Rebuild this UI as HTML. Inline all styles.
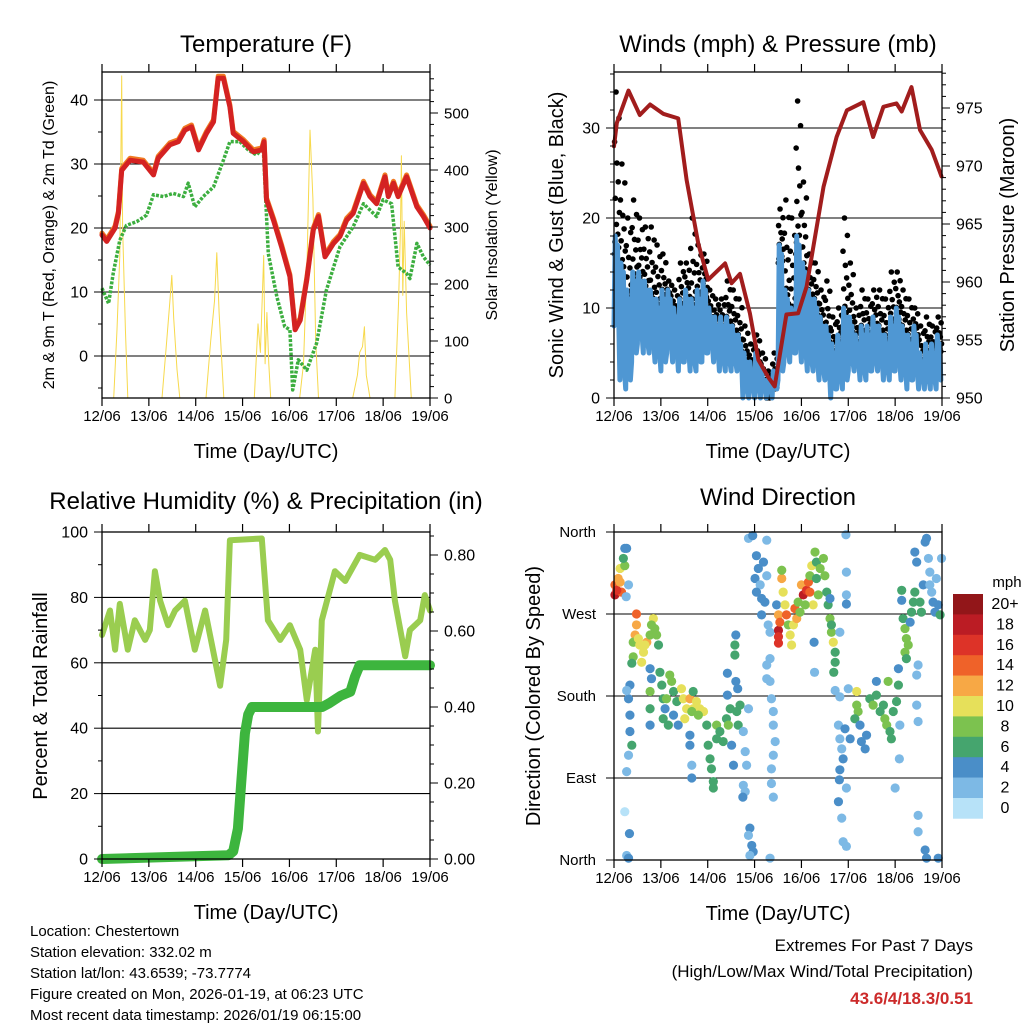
<!DOCTYPE html>
<html><head><meta charset="utf-8">
<style>
html,body{margin:0;padding:0;background:#fff;}
svg{display:block;font-family:"Liberation Sans",Arial,sans-serif;}
</style></head>
<body>
<svg id="chart" width="1024" height="1024" viewBox="0 0 1024 1024" xmlns="http://www.w3.org/2000/svg"></svg>
<script>
// ---------- DATA ----------
const dayLabels = ["12/06","13/06","14/06","15/06","16/06","17/06","18/06","19/06"];
// Temperature (F)
const tempT = [0,0.10,0.28,0.35,0.42,0.60,0.88,1.10,1.20,1.45,1.63,1.77,1.91,2.06,2.23,2.38,2.48,2.59,2.73,2.80,3.02,3.23,3.41,3.46,3.51,3.66,3.83,4.01,4.12,4.23,4.37,4.51,4.62,4.76,4.94,5.08,5.22,5.36,5.58,5.72,5.86,6.04,6.11,6.22,6.32,6.50,6.72,6.86,7.00];
const tempV = [18.9,17.9,20.0,22.3,29.0,30.6,30.3,28.3,30.9,33.0,33.5,35.3,35.8,32.2,34.8,36.6,43.4,43.4,38.9,34.8,33.5,31.9,32.2,33.5,24.4,21.2,17.1,12.4,4.1,5.6,11.9,19.7,21.8,15.5,17.6,18.7,21.2,22.3,27.0,24.9,23.8,28.0,24.9,27.0,24.9,28.0,23.3,21.8,20.0];
const dewT = [0,0.14,0.24,0.38,0.52,0.74,0.95,1.10,1.31,1.52,1.74,1.84,1.98,2.16,2.38,2.59,2.73,2.94,3.12,3.30,3.44,3.55,3.73,3.90,4.01,4.07,4.19,4.37,4.58,4.79,5.08,5.36,5.58,5.72,5.86,6.00,6.18,6.32,6.50,6.57,6.72,6.86,7.00];
const dewV = [10.6,8.2,12.9,18.1,20.4,21.0,22.0,25.2,24.9,25.4,24.9,27.0,23.3,24.9,26.4,30.6,33.5,33.5,32.2,31.4,32.7,16.0,9.3,4.6,4.1,-5.3,-0.6,-2.2,2.0,10.3,17.1,20.2,23.8,22.8,21.8,24.4,23.8,13.9,12.9,12.1,17.6,15.5,14.2];
const solarT = [0,0.25,0.32,0.38,0.42,0.44,0.50,0.55,1.28,1.38,1.45,1.49,1.53,1.60,1.66,2.22,2.32,2.40,2.45,2.50,2.60,3.25,3.33,3.38,3.45,3.48,3.52,3.56,3.60,4.22,4.30,4.38,4.44,4.50,4.56,4.62,5.35,5.45,5.50,5.56,5.60,5.64,5.72,6.25,6.33,6.37,6.39,6.42,6.45,6.50,6.60,7.00];
const solarV = [0,0,120,250,565,300,120,0,0,100,170,215,140,50,0,0,100,170,255,150,0,0,130,80,250,60,150,60,0,0,60,250,470,350,100,0,0,40,80,90,125,40,0,0,170,300,425,180,310,150,0,0];
// Winds (mph) per 3-hour bin & pressure (mb)
const windBinT = [0,0.125,0.25,0.375,0.5,0.625,0.75,0.875,1,1.125,1.25,1.375,1.5,1.625,1.75,1.875,2,2.125,2.25,2.375,2.5,2.625,2.75,2.875,3,3.125,3.25,3.375,3.5,3.625,3.75,3.875,4,4.125,4.25,4.375,4.5,4.625,4.75,4.875,5,5.125,5.25,5.375,5.5,5.625,5.75,5.875,6,6.125,6.25,6.375,6.5,6.625,6.75,6.875];
const windLo = [8,2,1,4,6,5,5,4,3,5,4,3,4,3,3,4,5,4,3,3,3,3,0,0,0,0,0,0,2,4,4,5,4,3,3,2,2,0,1,1,3,3,2,2,3,3,2,2,3,2,1,2,1,1,1,1];
const windHi = [18,15,12,14,14,13,12,11,12,12,10,11,12,11,12,13,10,9,9,9,8,7,5,4,5,3,2,3,17,12,10,18,15,12,11,9,8,6,7,10,9,7,8,8,9,8,7,9,10,8,7,8,5,6,6,7];
const gustTop = [34,26,20,22,20,19,19,17,16,13,12,15,15,20,17,16,12,11,11,13,12,11,8,6,7,5,3,5,21,22,20,33,24,16,15,12,13,9,10,20,15,10,12,11,12,12,11,14,14,12,11,10,8,9,8,9];
const presT = [0,0.06,0.31,0.55,0.77,1.05,1.37,1.55,1.80,2.01,2.37,2.51,2.69,2.90,3.08,3.29,3.43,3.68,3.93,4.11,4.47,4.75,4.97,5.32,5.53,5.75,6.03,6.14,6.35,6.53,6.78,6.99];
const presV = [971.7,973.7,976.5,974.4,975.3,974.5,974.1,968.8,963.3,960.2,961.6,959.9,960.7,957.3,953.3,951.8,951.0,957.2,957.3,959.6,968.2,972.5,974.8,975.5,972.5,975.1,975.4,974.7,976.8,973.1,971.4,969.1];
// Relative humidity (%) & precipitation (in)
const rhT = [0,0.17,0.28,0.38,0.55,0.70,0.92,1.02,1.13,1.24,1.41,1.56,1.77,1.98,2.20,2.41,2.52,2.65,2.73,3.41,3.54,3.80,4.01,4.23,4.37,4.55,4.61,4.69,4.97,5.19,5.50,5.83,6.04,6.15,6.25,6.47,6.57,6.79,6.89,7.00];
const rhV = [68.5,76,64,78,64,73,67,70,88,79,71.5,76,79,64,76,61,53,67,97.5,98,73,67,71.5,64,48.6,64,39,73,88,85,93,91.5,94.5,91.5,79,62,70,73,80.7,76];
const prT = [0,2.70,2.80,2.90,2.97,3.05,3.12,3.20,4.70,4.85,5.10,5.30,5.40,5.50,7.00];
const prV = [0,0.01,0.02,0.08,0.20,0.33,0.38,0.40,0.40,0.41,0.43,0.44,0.48,0.51,0.51];
// Wind direction (deg) colored by speed (mph)
const wdT = [0.02,0.02,0.09,0.13,0.16,0.23,0.20,0.23,0.27,0.31,0.26,0.06,0.13,
0.48,0.48,0.45,0.41,0.55,0.63,0.70,0.77,0.84,0.87,0.91,0.95,0.59,0.41,0.38,0.52,0.66,0.80,
0.34,0.31,0.27,0.34,0.34,0.38,0.31,0.27,0.23,0.33,0.27,0.31,
0.77,0.80,0.77,0.77,0.77,0.98,1.02,1.05,1.09,1.05,1.16,1.23,1.27,1.34,1.27,1.37,1.12,1.19,
1.44,1.48,1.55,1.62,1.69,1.76,1.83,1.91,1.51,1.69,1.66,1.80,1.62,1.62,1.66,1.66,
1.98,2.01,2.05,2.08,2.12,2.12,2.19,2.19,2.26,2.33,2.40,2.48,2.44,2.51,2.55,2.62,2.65,2.69,2.60,2.58,2.58,2.60,2.64,2.42,2.42,
2.76,2.80,2.83,2.76,2.80,2.75,2.87,2.90,2.94,2.97,2.87,2.90,
2.87,2.96,3.04,3.08,3.01,3.12,3.04,3.15,3.19,3.26,3.22,3.29,3.33,3.26,3.15,3.33,3.26,3.26,3.33,3.36,3.40,3.40,3.44,3.40,3.36,3.36,3.40,3.33,
3.47,3.51,3.51,3.51,3.51,3.54,3.58,3.58,3.61,3.65,3.68,3.72,3.76,3.79,3.83,3.86,3.90,3.93,3.97,
4.00,4.04,4.11,4.15,4.18,4.22,4.18,4.25,4.08,4.29,4.32,4.32,4.36,
4.40,4.47,4.50,4.54,4.57,4.61,4.64,4.68,4.72,4.72,4.69,4.61,4.64,4.27,4.28,4.82,4.96,4.96,4.96,4.95,
4.72,4.82,4.79,4.82,4.86,4.89,4.82,4.81,4.96,4.79,4.86,4.89,4.96,5.00,5.04,4.93,
5.18,5.18,5.21,5.14,5.25,5.28,5.36,5.39,5.46,5.53,5.60,5.60,5.68,5.75,5.78,5.82,5.85,5.89,5.92,5.96,6.03,6.07,6.07,6.10,6.09,6.00,
6.14,6.14,6.17,6.21,6.24,6.28,6.21,6.24,6.32,6.35,6.39,6.42,6.42,6.46,6.49,6.46,6.46,6.49,6.49,6.49,
6.53,6.56,6.60,6.64,6.67,6.71,6.74,6.74,6.78,6.81,6.85,6.88,6.92,6.96,6.99,6.64,6.67,6.92];
const wdD = [302,291,309,320,294,323,331,342,342,302,289,296,305,
270,258,247,239,236,228,239,247,265,254,247,236,217,223,216,243,236,258,
192,177,186,159,141,126,115,97,53,29,5,2,
210,199,185,166,148,206,192,177,166,155,148,196,185,174,159,148,177,203,
188,177,166,177,166,174,166,163,155,185,163,159,137,126,104,90,
148,126,111,100,86,79,133,148,141,130,155,166,148,126,104,163,148,170,247,236,225,196,188,205,181,
141,119,104,82,75,69,166,35,16,9,27,5,
353,356,334,320,309,302,294,287,327,312,283,258,250,351,269,221,214,199,196,177,163,148,130,115,100,84,69,2,
280,269,252,245,238,261,309,318,294,280,269,258,247,236,258,276,265,283,272,
302,291,296,305,294,323,312,280,280,338,327,309,291,
320,331,312,294,280,265,250,239,228,217,206,287,258,239,206,250,316,291,281,357,
186,179,148,133,122,111,99,88,79,64,46,20,15,188,133,144,
185,170,163,155,148,130,122,137,177,170,181,196,163,170,155,148,196,141,133,163,174,192,210,148,111,79,
296,285,265,254,243,236,228,221,261,272,283,294,338,327,214,203,170,152,49,31,
283,272,302,349,353,331,316,302,294,283,272,309,280,269,331,11,2,2];
const wdS = [14,18,12,10,14,8,6,4,4,2,2,16,12,
14,12,12,8,10,10,12,8,10,8,8,6,10,8,6,10,10,8,
4,4,2,4,4,6,2,2,0,4,2,4,
4,4,8,6,4,6,6,6,4,6,6,8,6,6,4,4,8,8,
10,10,10,12,10,10,10,10,10,6,8,8,4,4,2,4,
6,6,6,6,6,6,6,8,6,6,6,6,8,4,4,6,6,6,4,6,6,4,4,4,4,
2,2,2,2,2,4,2,4,4,4,2,2,
2,4,4,4,4,2,4,4,4,2,4,2,2,2,4,2,2,2,2,2,2,2,2,2,2,2,2,2,
4,12,18,16,16,14,12,8,10,10,14,8,10,10,10,14,12,8,8,
12,18,16,14,14,10,8,10,8,8,6,6,8,
8,8,8,6,6,8,8,10,6,6,6,4,6,4,2,2,2,2,4,2,
2,2,2,2,2,4,4,4,2,4,2,2,2,2,4,4,
10,8,8,6,4,4,4,4,6,8,6,4,6,6,8,8,8,6,6,6,6,6,4,2,2,2,
6,4,6,8,8,8,8,6,4,6,6,6,4,4,2,2,2,2,2,2,
6,6,4,4,4,2,2,2,2,4,4,2,4,6,2,4,4,4];
const speedLabels = ["0","2","4","6","8","10","12","14","16","18","20+"];
const speedColors = ["#b7e2f8","#7db9e5","#4a8ec8","#45a56e","#7cc24f","#e6e05a","#f7a845","#ef6229","#dd3328","#bb1c24","#921619"];

// ---------- HELPERS ----------
const svg = document.getElementById('chart');
const NS = "http://www.w3.org/2000/svg";
function el(tag, attrs, parent, text){
  const e = document.createElementNS(NS, tag);
  for (const k in attrs) e.setAttribute(k, attrs[k]);
  if (text !== undefined) e.textContent = text;
  (parent || svg).appendChild(e);
  return e;
}
function group(name){
  const g = el('g', {});
  
  
  return g;
}
function scale(d0, d1, r0, r1){ return v => r0 + (v - d0) * (r1 - r0) / (d1 - d0); }

function timeAxis(g, P, xs){
  for (let i = 0; i < dayLabels.length; i++){
    const x = xs(i);
    el('line', {x1:x, y1:P.y1, x2:x, y2:P.y1+8, stroke:'#000','stroke-width':1.2}, g);
    el('line', {x1:x, y1:P.y0-8, x2:x, y2:P.y0, stroke:'#000','stroke-width':1.2}, g);
    const t = el('text', {x:x, y:P.y1+23, 'font-size':15, 'text-anchor':'middle'}, g, dayLabels[i]);
    
    
  }
  const xt = el('text', {x:(P.x0+P.x1)/2, y:P.y1+60, 'font-size':20, 'text-anchor':'middle'}, g, 'Time (Day/UTC)');
  
  
}
function yAxis(g, P, ys, lo, hi, major, minor, side, fmt, fs){
  const x = side === 'left' ? P.x0 : P.x1;
  const dir = side === 'left' ? -1 : 1;
  for (let v = lo; v <= hi + 1e-9; v += minor){
    const y = ys(v);
    if (y < P.y0 - 0.5 || y > P.y1 + 0.5) continue;
    const isMaj = Math.abs(v / major - Math.round(v / major)) < 1e-6;
    el('line', {x1:x, y1:y, x2:x + dir*(isMaj ? 8 : 4), y2:y, stroke:'#000','stroke-width':1}, g);
    if (isMaj){
      const t = el('text', {x:x + dir*14, y:y+5.5, 'font-size':fs||16, 'text-anchor': side==='left'?'end':'start'}, g, fmt(v));
      
      
    }
  }
}
function hgrid(g, P, ys, vals){
  vals.forEach(v => { const y = ys(v); el('line', {x1:P.x0, y1:y, x2:P.x1, y2:y, stroke:'#000','stroke-width':1.1}, g); });
}
function frame(g, P){
  el('rect', {x:P.x0, y:P.y0, width:P.x1-P.x0, height:P.y1-P.y0, fill:'none', stroke:'#000','stroke-width':1.3}, g);
}
function poly(g, T, V, xs, ys, attrs){
  const pts = T.map((t,i) => xs(t).toFixed(1) + ',' + ys(V[i]).toFixed(1)).join(' ');
  const a = Object.assign({points:pts, fill:'none','stroke-linejoin':'round','stroke-linecap':'round'}, attrs);
  return el('polyline', a, g);
}
function rotText(g, x, y, txt, fs, name){
  const t = el('text', {x:x, y:y, 'font-size':fs, 'text-anchor':'middle', transform:'rotate(-90 '+x+' '+y+')'}, g, txt);
  
  
}
function title(x, y, txt, name){
  const t = el('text', {x:x, y:y, 'font-size':24, 'text-anchor':'middle'}, svg, txt);
  
  
}

// ---------- PANEL 1: TEMPERATURE ----------
(function(){
  const P = {x0:102, x1:430, y0:72, y1:398};
  const g = group('temperature-panel');
  const xs = scale(0, 7, P.x0, P.x1);
  const ys = scale(0, 40, 356, 100);
  const ysS = scale(0, 500, 398, 113);
  hgrid(g, P, ys, [0,10,20,30,40]);
  const s = poly(g, solarT, solarV, xs, ysS, {stroke:'#f7d94c','stroke-width':1});
  
  
  const d = poly(g, dewT, dewV, xs, ys, {stroke:'#3cae3f','stroke-width':3.5,'stroke-dasharray':'3 1.5','stroke-linecap':'butt'});
  
  
  const o = poly(g, tempT, tempV.map(v=>v+0.3), xs, ys, {stroke:'#f07a22','stroke-width':5});
  
  
  const r = poly(g, tempT, tempV, xs, ys, {stroke:'#d42222','stroke-width':5});
  
  
  frame(g, P);
  timeAxis(g, P, xs);
  yAxis(g, P, ys, -5, 45, 10, 5, 'left', v=>String(v), 16);
  yAxis(g, P, ysS, 0, 570, 100, 20, 'right', v=>String(v), 15);
  rotText(g, 54, 235, '2m & 9m T (Red, Orange) & 2m Td (Green)', 16, 'left-y-axis-title');
  rotText(g, 497, 235, 'Solar Insolation (Yellow)', 16, 'right-y-axis-title');
})();
title(266, 52, 'Temperature (F)', 'temperature-title');

// ---------- PANEL 2: WINDS ----------
(function(){
  const P = {x0:614, x1:942, y0:72, y1:398};
  const g = group('winds-panel');
  const xs = scale(0, 7, P.x0, P.x1);
  const ys = scale(0, 30, 398, 128);
  const ysP = scale(950, 975, 398, 108);
  hgrid(g, P, ys, [10,20,30]);
  const bw = 0.125;
  // gusts (black dots)
  const gg = group('gust-points');
  g.appendChild(gg);
  const fr = [0.05,0.55,0.3,0.8,0.15,0.65,0.42,0.92,0.22,0.72,0.5,0.1,0.85,0.35];
  windBinT.forEach((t,i) => {
    const steps = fr.length;
    for (let k = 0; k < steps; k++){
      const f = k/(steps-1);
      const v = windHi[i] - 2 + (gustTop[i] - windHi[i] + 2) * Math.pow(f, 2.2);
      const tt = t + bw * fr[k];
      el('circle', {cx:xs(tt), cy:ys(v), r:2.8, fill:'#000'}, gg);
    }
  });
  // sustained wind (blue zig-zag)
  const zt = [], zv = [];
  windBinT.forEach((t,i) => {
    zt.push(t); zv.push(windLo[i]);
    zt.push(t+bw*0.2); zv.push(windHi[i]);
    zt.push(t+bw*0.4); zv.push((windLo[i]+windHi[i])/2);
    zt.push(t+bw*0.6); zv.push(windHi[i]-1);
    zt.push(t+bw*0.8); zv.push(windLo[i]+1);
  });
  const b = poly(g, zt, zv, xs, ys, {stroke:'#4f97d3','stroke-width':5});
  
  
  const p = poly(g, presT, presV, xs, ysP, {stroke:'#a11d1d','stroke-width':4});
  
  
  frame(g, P);
  timeAxis(g, P, xs);
  yAxis(g, P, ys, 0, 36, 10, 2, 'left', v=>String(v), 16);
  yAxis(g, P, ysP, 950, 978, 5, 1, 'right', v=>String(v), 16);
  rotText(g, 563, 235, 'Sonic Wind & Gust (Blue, Black)', 20, 'left-y-axis-title');
  rotText(g, 1014, 235, 'Station Pressure (Maroon)', 20, 'right-y-axis-title');
})();
title(778, 52, 'Winds (mph) & Pressure (mb)', 'winds-title');

// ---------- PANEL 3: RH & PRECIP ----------
(function(){
  const P = {x0:102, x1:430, y0:532, y1:859};
  const g = group('humidity-panel');
  const xs = scale(0, 7, P.x0, P.x1);
  const ys = scale(0, 100, 859, 532);
  const ysP = scale(0, 0.8, 859, 555);
  hgrid(g, P, ys, [20,40,60,80]);
  const r = poly(g, rhT, rhV, xs, ys, {stroke:'#9acd50','stroke-width':6});
  
  
  const p = poly(g, prT, prV, xs, ysP, {stroke:'#3db53e','stroke-width':10});
  
  
  frame(g, P);
  timeAxis(g, P, xs);
  yAxis(g, P, ys, 0, 100, 20, 10, 'left', v=>String(v), 16);
  yAxis(g, P, ysP, 0, 0.86, 0.2, 0.05, 'right', v=>v.toFixed(2), 16);
  rotText(g, 47, 696, 'Percent & Total Rainfall', 20, 'left-y-axis-title');
})();
title(266, 509, 'Relative Humidity (%) & Precipitation (in)', 'humidity-title');

// ---------- PANEL 4: WIND DIRECTION ----------
(function(){
  const P = {x0:614, x1:942, y0:532, y1:860};
  const g = group('wind-direction-panel');
  const xs = scale(0, 7, P.x0, P.x1);
  const ys = scale(0, 360, 860, 532);
  hgrid(g, P, ys, [90,180,270]);
  const gp = group('direction-points');
  g.appendChild(gp);
  wdT.forEach((t,i) => {
    const bin = Math.min(10, Math.floor(wdS[i] / 2));
    const c = el('circle', {cx:xs(t), cy:ys(wdD[i]), r:4.6, fill:speedColors[bin]}, gp);
    
    
  });
  frame(g, P);
  timeAxis(g, P, xs);
  const names = ['North','East','South','West','North'];
  [0,90,180,270,360].forEach((v,i) => {
    const y = ys(v);
    el('line', {x1:P.x0, y1:y, x2:P.x0-8, y2:y, stroke:'#000','stroke-width':1}, g);
    const t = el('text', {x:P.x0-18, y:y+5, 'font-size':15, 'text-anchor':'end'}, g, names[i]);
    
    
  });
  rotText(g, 540, 696, 'Direction (Colored By Speed)', 20, 'left-y-axis-title');
  // colorbar
  const cb = group('speed-colorbar');
  const bh = 20.4, top = 594;
  for (let i = 0; i < speedColors.length; i++){
    const k = speedColors.length - 1 - i;
    el('rect', {x:953, y:top + i*bh, width:30, height:bh+0.3, fill:speedColors[k]}, cb);
    const t = el('text', {x:1005, y:top + i*bh + 15, 'font-size':16, 'text-anchor':'middle'}, cb, speedLabels[k]);
    
    
  }
  const m = el('text', {x:1007, y:587, 'font-size':15, 'text-anchor':'middle'}, cb, 'mph');
  
  
})();
title(778, 505, 'Wind Direction', 'wind-direction-title');

// ---------- FOOTER ----------
const info = group('station-info');
['Location: Chestertown','Station elevation: 332.02 m','Station lat/lon: 43.6539; -73.7774','Figure created on Mon, 2026-01-19, at 06:23 UTC','Most recent data timestamp: 2026/01/19 06:15:00'].forEach((s,i)=>{
  const t = el('text', {x:30, y:936 + i*21, 'font-size':15}, info, s);
  
  
});
const ex = group('extremes-summary');
let t1 = el('text', {x:973, y:951, 'font-size':17, 'text-anchor':'end'}, ex, 'Extremes For Past 7 Days');


let t2 = el('text', {x:973, y:977, 'font-size':17, 'text-anchor':'end'}, ex, '(High/Low/Max Wind/Total Precipitation)');


let t3 = el('text', {x:973, y:1004, 'font-size':17, 'font-weight':'bold', fill:'#cc2a2a', 'text-anchor':'end'}, ex, '43.6/4/18.3/0.51');


</script>
</body></html>
